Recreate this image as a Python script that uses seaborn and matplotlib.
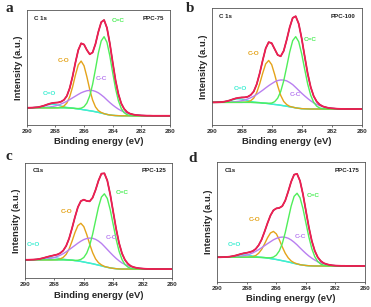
import matplotlib
matplotlib.use("Agg")
import matplotlib.pyplot as plt
import pandas as pd
import seaborn as sns


# binding energy grid (eV), shared by every panel
energy = [290.0, 289.8, 289.6, 289.4, 289.2, 289.0, 288.8, 288.6, 288.4, 288.2,
          288.0, 287.8, 287.6, 287.4, 287.2, 287.0, 286.8, 286.6, 286.4, 286.2,
          286.0, 285.8, 285.6, 285.4, 285.2, 285.0, 284.8, 284.6, 284.4, 284.2,
          284.0, 283.8, 283.6, 283.4, 283.2, 283.0, 282.8, 282.6, 282.4, 282.2,
          282.0, 281.8, 281.6, 281.4, 281.2, 281.0, 280.8, 280.6, 280.4, 280.2,
          280.0]

# PPC-75  (background + fitted components, heights above background)
bg_75 = [15] * 14 + [14.9, 14.8, 14.6, 14.3, 14.0, 13.6, 13.2, 12.8, 12.4, 12.0, 11.5, 11.0,
                     10.4, 9.8, 9.2, 8.7, 8.4, 8.2, 8.1] + [8] * 18
c_eq_o_75 = [0] * 2 + [0.1, 0.2, 0.4, 0.9, 1.5, 2.2, 2.8, 3, 2.8, 2.2, 1.5, 0.9, 0.4, 0.2, 0.1] + [0] * 34
c_o_75 = [0] * 11 + [0.1, 0.5, 1.5, 4.2, 9.7, 18.4, 29.1, 38.3, 42, 38.3, 29.1, 18.4, 9.7, 4.2,
                     1.5, 0.5, 0.1] + [0] * 23
c_c_75 = [0] * 3 + [0.1, 0.1, 0.2, 0.3, 0.5, 0.7, 1.1, 1.6, 2.3, 3.3, 4.4, 5.7, 7.3, 9.0, 10.8, 12.6,
                    14.4, 15.8, 17.0, 17.7, 18, 17.7, 17.0, 15.8, 14.4, 12.6, 10.8, 9.0, 7.3, 5.7,
                    4.4, 3.3, 2.3, 1.6, 1.1, 0.7, 0.5, 0.3, 0.2, 0.1, 0.1] + [0] * 7
c_eq_c_75 = [0] * 17 + [0.1, 0.3, 1.0, 2.7, 6.3, 13.0, 23.4, 37.1, 51.5, 62.7, 67, 62.7, 51.5, 37.1,
                        23.4, 13.0, 6.3, 2.7, 1.0, 0.3, 0.1] + [0] * 13

# PPC-100
bg_100 = [19.4] * 14 + [19.3, 19.2, 19.1, 18.8, 18.6, 18.3, 17.9, 17.6, 17.3, 16.9, 16.5, 16.1,
                        15.6, 15.2, 14.7, 14.3, 14.0, 13.9, 13.8] + [13.7] * 18
c_eq_o_100 = [0] * 2 + [0.1, 0.2, 0.4, 0.9, 1.5, 2.2, 2.8, 3, 2.8, 2.2, 1.5, 0.9, 0.4, 0.2, 0.1] + [0] * 34
c_o_100 = [0] * 11 + [0.1, 0.4, 1.4, 3.7, 8.5, 16.2, 25.6, 33.8, 37, 33.8, 25.6, 16.2, 8.5, 3.7,
                      1.4, 0.4, 0.1] + [0] * 23
c_c_100 = [0] * 4 + [0.1, 0.1, 0.2, 0.4, 0.6, 0.9, 1.4, 2.0, 2.9, 4.0, 5.3, 7.0, 8.9, 11.0, 13.2,
                     15.4, 17.5, 19.4, 20.8, 21.7, 22, 21.7, 20.8, 19.4, 17.5, 15.4, 13.2, 11.0, 8.9,
                     7.0, 5.3, 4.0, 2.9, 2.0, 1.4, 0.9, 0.6, 0.4, 0.2, 0.1, 0.1] + [0] * 6
c_eq_c_100 = [0] * 18 + [0.1, 0.3, 0.9, 2.4, 5.7, 11.8, 21.3, 33.8, 46.9, 57.1, 61, 57.1, 46.9, 33.8,
                         21.3, 11.8, 5.7, 2.4, 0.9, 0.3, 0.1] + [0] * 12

# PPC-125
bg_125 = [16] * 14 + [15.9, 15.8, 15.6, 15.3, 15.0, 14.6, 14.1, 13.6, 13.1, 12.6, 12.0, 11.4,
                      10.8, 10.1, 9.5, 9.0, 8.6, 8.3, 8.1] + [8] * 18
c_eq_o_125 = [0] * 2 + [0.1, 0.1, 0.3, 0.6, 1.0, 1.5, 1.9, 2, 1.9, 1.5, 1.0, 0.6, 0.3, 0.1, 0.1] + [0] * 34
c_o_125 = [0] * 10 + [0.1, 0.2, 0.8, 2.1, 4.8, 9.6, 16.5, 24.3, 30.6, 33, 30.6, 24.3, 16.5, 9.6,
                      4.8, 2.1, 0.8, 0.2, 0.1] + [0] * 22
c_c_125 = [0] * 3 + [0.1, 0.1, 0.2, 0.4, 0.6, 0.9, 1.4, 2.0, 2.9, 4.0, 5.3, 7.0, 8.9, 11.0, 13.2,
                     15.4, 17.5, 19.4, 20.8, 21.7, 22, 21.7, 20.8, 19.4, 17.5, 15.4, 13.2, 11.0, 8.9,
                     7.0, 5.3, 4.0, 2.9, 2.0, 1.4, 0.9, 0.6, 0.4, 0.2, 0.1, 0.1] + [0] * 7
c_eq_c_125 = [0] * 16 + [0.1, 0.2, 0.6, 1.7, 3.9, 8.2, 15.3, 25.5, 37.9, 50.2, 59.5, 63, 59.5, 50.2,
                         37.9, 25.5, 15.3, 8.2, 3.9, 1.7, 0.6, 0.2, 0.1] + [0] * 12

# PPC-175
bg_175 = [20.4] * 14 + [20.3, 20.2, 20.0, 19.7, 19.3, 18.9, 18.5, 18.0, 17.5, 17.0, 16.5, 15.9,
                        15.3, 14.7, 14.2, 13.8, 13.5, 13.3, 13.2] + [13.1] * 18
c_eq_o_175 = [0] * 2 + [0.1, 0.1, 0.3, 0.6, 1.0, 1.5, 1.9, 2, 1.9, 1.5, 1.0, 0.6, 0.3, 0.1, 0.1] + [0] * 34
c_o_175 = [0] * 11 + [0.2, 0.5, 1.4, 3.4, 6.7, 11.5, 16.9, 21.3, 23, 21.3, 16.9, 11.5, 6.7, 3.4,
                      1.4, 0.5, 0.2] + [0] * 23
c_c_175 = [0] * 3 + [0.1, 0.1, 0.2, 0.3, 0.5, 0.8, 1.3, 1.8, 2.6, 3.6, 4.9, 6.4, 8.1, 10.0, 12.0,
                     14.0, 16.0, 17.6, 18.9, 19.7, 20, 19.7, 18.9, 17.6, 16.0, 14.0, 12.0, 10.0, 8.1,
                     6.4, 4.9, 3.6, 2.6, 1.8, 1.3, 0.8, 0.5, 0.3, 0.2, 0.1, 0.1] + [0] * 7
c_eq_c_175 = [0] * 16 + [0.1, 0.2, 0.6, 1.6, 3.7, 7.7, 14.3, 23.9, 35.5, 47.1, 55.8, 59, 55.8, 47.1,
                         35.5, 23.9, 14.3, 7.7, 3.7, 1.6, 0.6, 0.2, 0.1] + [0] * 12

x_ticks = [290, 288, 286, 284, 282, 280]

colors = {"bg": "#40eebf", "C=O": "#40eed2", "C-O": "#e4a31a", "C-C": "#b97ff0",
          "C=C": "#50ee5a", "fit": "#f01e52"}

panels = [
    dict(letter="a", name="PPC-75", core="C 1s", rect=(26.7, 10, 170, 125), letter_xy=(6, 12),
         bg=bg_75, comps={"C=O": c_eq_o_75, "C-O": c_o_75, "C-C": c_c_75, "C=C": c_eq_c_75},
         labels={"C=C": (283.6, 91), "C-O": (287.45, 56), "C-C": (284.75, 40), "C=O": (288.4, 27)}),
    dict(letter="b", name="PPC-100", core="C 1s", rect=(211.7, 8.3, 361.7, 125), letter_xy=(186, 12),
         bg=bg_100, comps={"C=O": c_eq_o_100, "C-O": c_o_100, "C-C": c_c_100, "C=C": c_eq_c_100},
         labels={"C=C": (283.45, 73), "C-O": (287.2, 61), "C-C": (284.4, 26), "C=O": (288.1, 31)}),
    dict(letter="c", name="PPC-125", core="C1s", rect=(25, 162.7, 172, 278.3), letter_xy=(5, 160),
         bg=bg_125, comps={"C=O": c_eq_o_125, "C-O": c_o_125, "C-C": c_c_125, "C=C": c_eq_c_125},
         labels={"C=C": (283.4, 74), "C-O": (287.2, 58), "C-C": (284.1, 35), "C=O": (289.45, 29)}),
    dict(letter="d", name="PPC-175", core="C1s", rect=(217.3, 161.7, 365, 281.7), letter_xy=(188, 162),
         bg=bg_175, comps={"C=O": c_eq_o_175, "C-O": c_o_175, "C-C": c_c_175, "C=C": c_eq_c_175},
         labels={"C=C": (283.5, 72), "C-O": (287.45, 52), "C-C": (284.4, 38), "C=O": (288.85, 31)}),
]

sns.set_style("ticks")
plt.rcParams["font.family"] = ["Liberation Sans", "DejaVu Sans"]

W, H = 371, 307
fig = plt.figure(figsize=(W / 100, H / 100), dpi=100)

for p in panels:
    l, t, r, b = p["rect"]
    ax = fig.add_axes([l / W, 1 - b / H, (r - l) / W, (b - t) / H])

    df = pd.DataFrame({"energy": energy, "bg": p["bg"]})
    fit = df["bg"].copy()
    for key, vals in p["comps"].items():
        df[key] = df["bg"] + pd.Series(vals)
        fit = fit + pd.Series(vals)
    df["fit"] = fit

    sns.lineplot(data=df, x="energy", y="bg", ax=ax, color=colors["bg"], lw=1.0, sort=False)
    for key in ["C=O", "C-O", "C-C", "C=C"]:
        sns.lineplot(data=df, x="energy", y=key, ax=ax, color=colors[key], lw=1.0, sort=False)
    # measured spectrum sits just under the fitted envelope
    sns.lineplot(data=df, x="energy", y="fit", ax=ax, color="#333333", lw=0.9, sort=False)
    sns.lineplot(data=df, x="energy", y="fit", ax=ax, color=colors["fit"], lw=1.3, sort=False)

    for key, (ex, ey) in p["labels"].items():
        ax.text(ex, ey, key, color=colors[key], fontsize=4.6, fontweight="bold",
                ha="center", va="center")

    ax.text(0.05, 0.95, p["core"], transform=ax.transAxes, fontsize=4.4, fontweight="bold",
            ha="left", va="top", color="#222222")
    ax.text(0.96, 0.95, p["name"], transform=ax.transAxes, fontsize=4.4, fontweight="bold",
            ha="right", va="top", color="#222222")

    ax.set_xlim(290, 280)
    ax.set_ylim(0, 100)
    ax.set_xticks(x_ticks)
    ax.set_xticklabels([str(v) for v in x_ticks])
    ax.set_yticks([])
    ax.set_xlabel("Binding energy (eV)", fontsize=6.8, fontweight="bold", labelpad=2.2)
    ax.set_ylabel("Intensity (a.u.)", fontsize=6.8, fontweight="bold", labelpad=3)
    ax.tick_params(axis="x", length=1.5, width=0.5, pad=1.5, labelsize=4.6, colors="#333333")
    for lbl in ax.get_xticklabels():
        lbl.set_fontweight("bold")
    for sp in ax.spines.values():
        sp.set_visible(True)
        sp.set_linewidth(0.6)
        sp.set_color("#555555")

    fig.text(p["letter_xy"][0] / W, 1 - p["letter_xy"][1] / H, p["letter"],
             fontfamily="Liberation Serif", fontweight="bold", fontsize=11,
             ha="left", va="baseline")

fig.savefig("out.png", dpi=100)
